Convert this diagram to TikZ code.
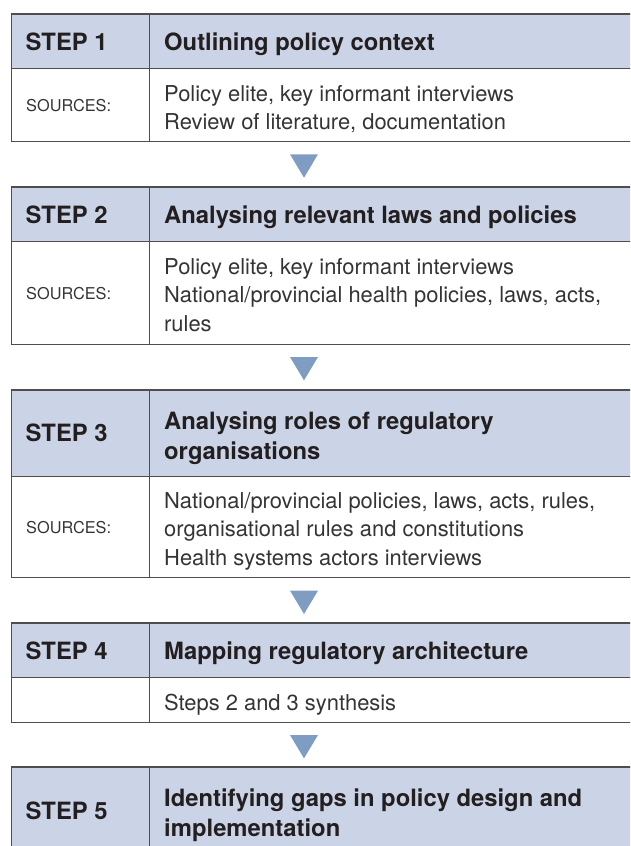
\documentclass[tikz,border=0pt]{standalone}
\usepackage{fontspec}
\setmainfont{TeX Gyre Heros}
\usetikzlibrary{calc}
\definecolor{hdrfill}{RGB}{203,212,230}
\definecolor{rulegray}{RGB}{78,78,78}
\definecolor{arrowblue}{RGB}{127,156,195}
\definecolor{boldtext}{RGB}{35,31,32}
\definecolor{bodytext}{RGB}{52,52,52}

\begin{document}
\begin{tikzpicture}[x=1pt, y=-1pt,
  cellbox/.style={draw=rulegray, line width=1pt, anchor=north west, inner sep=0pt},
  leftcell/.style={cellbox, minimum width=138.2pt},
  rightcell/.style={cellbox, minimum width=600pt},
  headcell/.style={fill=hdrfill},
  toprule/.style={draw=rulegray, line width=2pt},
  steplabel/.style={anchor=base west, inner sep=0pt, text=boldtext, font=\fontsize{23.8}{30}\selectfont\bfseries},
  titletext/.style={anchor=base west, inner sep=0pt, text=boldtext, font=\fontsize{23.8}{30}\selectfont\bfseries},
  srclabel/.style={anchor=base west, inner sep=0pt, text=bodytext, font=\fontsize{16.3}{20}\selectfont},
  srctext/.style={anchor=base west, inner sep=0pt, text=bodytext, font=\fontsize{21.9}{28.5}\selectfont},
  downtri/.style={fill=arrowblue}
]
\useasboundingbox (0,0) rectangle (630,846);
\clip (0,0) rectangle (630,846);

\coordinate (ax) at (304,0);

% ---------- Step 1 ----------
\node[leftcell, headcell, minimum height=53.7pt] (h1L) at (10.5,14) {};
\node[rightcell, headcell, minimum height=53.7pt] (h1R) at (148.7,14) {};
\node[leftcell, minimum height=73.3pt] (r1L) at (10.5,67.7) {};
\node[rightcell, minimum height=73.3pt] (r1R) at (148.7,67.7) {};
\draw[toprule] (h1L.north west) -- (h1R.north east);
\node[steplabel] (s1) at (25.5,50) {STEP 1};
\node[titletext] (t1) at (164,50) {Outlining policy context};
\node[srclabel] (l1) at (26,111.5) {SOURCES:};
\node[srctext] (x1a) at (164,101) {Policy elite, key informant interviews};
\node[srctext] (x1b) at (164,129) {Review of literature, documentation};

% ---------- Step 2 ----------
\node[leftcell, headcell, minimum height=53.7pt] (h2L) at (10.5,187.3) {};
\node[rightcell, headcell, minimum height=53.7pt] (h2R) at (148.7,187.3) {};
\node[leftcell, minimum height=102.7pt] (r2L) at (10.5,241) {};
\node[rightcell, minimum height=102.7pt] (r2R) at (148.7,241) {};
\draw[toprule] (h2L.north west) -- (h2R.north east);
\node[steplabel] (s2) at (25.5,223) {STEP 2};
\node[titletext] (t2) at (164,223) {Analysing relevant laws and policies};
\node[srclabel] (l2) at (26,299.5) {SOURCES:};
\node[srctext] (x2a) at (164,274) {Policy elite, key informant interviews};
\node[srctext] (x2b) at (164,302.5) {National/provincial health policies, laws, acts,};
\node[srctext] (x2c) at (164,331) {rules};

% ---------- Step 3 ----------
\node[leftcell, headcell, minimum height=85.7pt] (h3L) at (10.5,390) {};
\node[rightcell, headcell, minimum height=85.7pt] (h3R) at (148.7,390) {};
\node[leftcell, minimum height=101.6pt] (r3L) at (10.5,475.7) {};
\node[rightcell, minimum height=101.6pt] (r3R) at (148.7,475.7) {};
\draw[toprule] (h3L.north west) -- (h3R.north east);
\node[steplabel] (s3) at (25.5,441.5) {STEP 3};
\node[titletext] (t3a) at (164,429) {Analysing roles of regulatory};
\node[titletext] (t3b) at (164,459) {organisations};
\node[srclabel] (l3) at (26,533.5) {SOURCES:};
\node[srctext] (x3a) at (164,508) {National/provincial policies, laws, acts, rules,};
\node[srctext] (x3b) at (164,536.5) {organisational rules and constitutions};
\node[srctext] (x3c) at (164,565) {Health systems actors interviews};

% ---------- Step 4 ----------
\node[leftcell, headcell, minimum height=54pt] (h4L) at (10.5,623.3) {};
\node[rightcell, headcell, minimum height=54pt] (h4R) at (148.7,623.3) {};
\node[leftcell, minimum height=44.4pt] (r4L) at (10.5,677.3) {};
\node[rightcell, minimum height=44.4pt] (r4R) at (148.7,677.3) {};
\draw[toprule] (h4L.north west) -- (h4R.north east);
\node[steplabel] (s4) at (25.5,659) {STEP 4};
\node[titletext] (t4) at (164,659) {Mapping regulatory architecture};
\node[srctext] (x4a) at (164,710) {Steps 2 and 3 synthesis};

% ---------- Step 5 ----------
\node[leftcell, headcell, minimum height=85.7pt] (h5L) at (10.5,767.3) {};
\node[rightcell, headcell, minimum height=85.7pt] (h5R) at (148.7,767.3) {};
\draw[toprule] (h5L.north west) -- (h5R.north east);
\node[steplabel] (s5) at (25.5,819) {STEP 5};
\node[titletext] (t5a) at (164,806) {Identifying gaps in policy design and};
\node[titletext] (t5b) at (164,836) {implementation};

% ---------- downward markers between steps ----------
\foreach \r/\h in {r1R/h2R, r2R/h3R, r3R/h4R, r4R/h5R}{
  \fill[downtri] ($(\r.south -| ax)+(-14,12.3)$) -- ++(28,0) -- ($(\r.south -| ax)+(0,35.7)$) -- cycle;
}
\end{tikzpicture}
\end{document}
